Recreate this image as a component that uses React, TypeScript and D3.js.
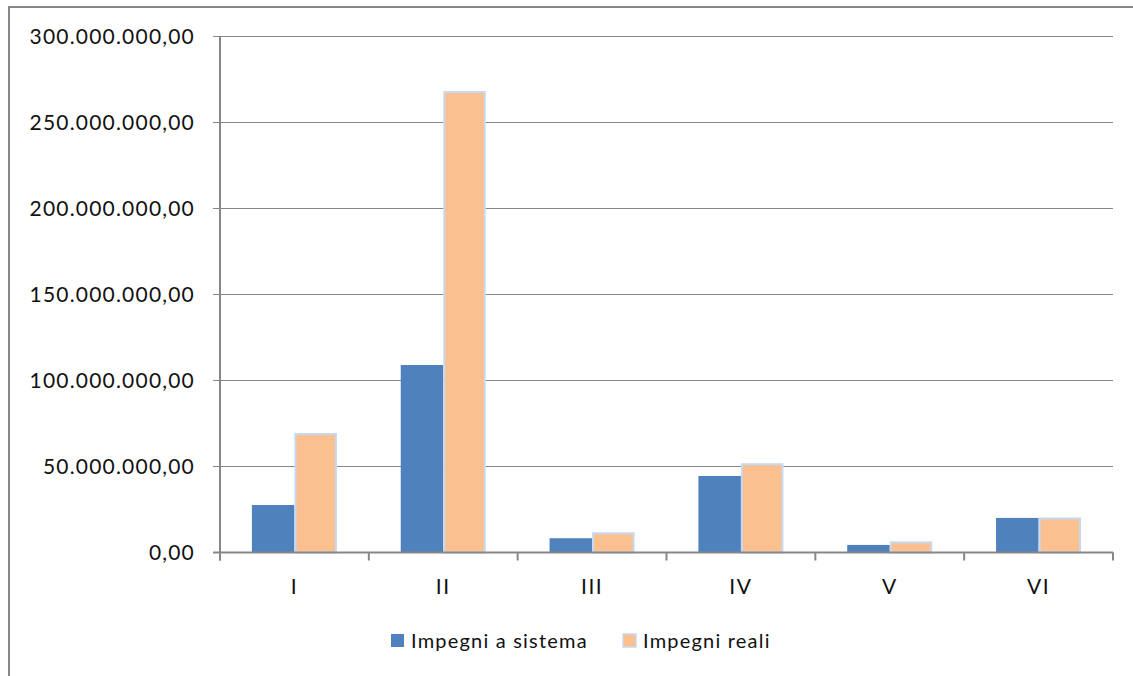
import { useEffect, useRef } from 'react';
import * as d3 from 'd3';

const categories = ['I', 'II', 'III', 'IV', 'V', 'VI'];
const impegniSistema = [27600000, 109000000, 8300000, 44500000, 4400000, 20100000];
const impegniReali = [68900000, 267700000, 11200000, 51300000, 5900000, 19800000];
const yTicks = [0, 50000000, 100000000, 150000000, 200000000, 250000000, 300000000];
const seriesNames = ['Impegni a sistema', 'Impegni reali'];

const W = 1133;
const H = 676;
const margin = { top: 36.5, right: 20, bottom: 123.5, left: 220 };
const FONT = 'Lato, "Open Sans", sans-serif';
const BLUE = '#4f81bd';
const ORANGE = '#fac090';
const GRID = '#878787';

// 300.000.000,00 style
const fmt = (v: number) => {
  const s = Math.round(v).toString().replace(/\B(?=(\d{3})+(?!\d))/g, '.');
  return s + ',00';
};

const App = () => {
  const ref = useRef<SVGSVGElement>(null);

  useEffect(() => {
    const svg = d3.select(ref.current);
    svg.selectAll('*').remove();

    const x0 = margin.left;
    const x1 = W - margin.right;
    const yTop = margin.top;
    const yBot = H - margin.bottom;

    const x = d3.scaleBand().domain(categories).range([x0, x1]);
    const inner = d3
      .scaleBand()
      .domain(seriesNames)
      .range([0, x.bandwidth()])
      .paddingInner(0)
      .paddingOuter(0.75);
    const y = d3.scaleLinear().domain([0, 300000000]).range([yBot, yTop]);

    // outer frame
    svg
      .append('path')
      .attr('d', `M9,${H} L9,7 L${W},7`)
      .attr('fill', 'none')
      .attr('stroke', GRID)
      .attr('stroke-width', 2);

    // gridlines
    svg
      .append('g')
      .selectAll('line')
      .data(yTicks.slice(1))
      .enter()
      .append('line')
      .attr('x1', x0 - 7)
      .attr('x2', x1)
      .attr('y1', (d) => y(d))
      .attr('y2', (d) => y(d))
      .attr('stroke', GRID)
      .attr('stroke-width', 1);

    // y labels
    svg
      .append('g')
      .selectAll('text')
      .data(yTicks)
      .enter()
      .append('text')
      .attr('x', 195)
      .attr('y', (d) => y(d))
      .attr('dy', '0.35em')
      .attr('text-anchor', 'end')
      .style('font-family', FONT)
      .style('font-size', '21px')
      .style('letter-spacing', '1.2px')
      .attr('fill', '#111')
      .text(fmt);

    // bars
    const data = categories.map((c, i) => ({ c, vals: [impegniSistema[i], impegniReali[i]] }));
    const groups = svg
      .append('g')
      .selectAll('g')
      .data(data)
      .enter()
      .append('g')
      .attr('transform', (d) => `translate(${x(d.c)},0)`);

    groups
      .selectAll('rect')
      .data((d) => d.vals.map((v, i) => ({ v, s: seriesNames[i] })))
      .enter()
      .append('rect')
      .attr('x', (d) => (inner(d.s) as number) + (d.s === seriesNames[1] ? 1 : 0))
      .attr('width', (d) => inner.bandwidth() - (d.s === seriesNames[1] ? 2 : 0))
      .attr('y', (d) => y(d.v))
      .attr('height', (d) => yBot - y(d.v))
      .attr('fill', (d) => (d.s === seriesNames[0] ? BLUE : ORANGE))
      .attr('stroke', (d) => (d.s === seriesNames[0] ? 'none' : '#c6d9f1'))
      .attr('stroke-width', 2);

    // axes
    svg
      .append('line')
      .attr('x1', x0)
      .attr('x2', x0)
      .attr('y1', yTop)
      .attr('y2', yBot + 8)
      .attr('stroke', GRID)
      .attr('stroke-width', 2);
    svg
      .append('line')
      .attr('x1', x0 - 7)
      .attr('x2', x1)
      .attr('y1', yBot)
      .attr('y2', yBot)
      .attr('stroke', GRID)
      .attr('stroke-width', 2);

    const tickXs = categories.map((c) => (x(c) as number)).concat([x1]);
    svg
      .append('g')
      .selectAll('line')
      .data(tickXs)
      .enter()
      .append('line')
      .attr('x1', (d) => d)
      .attr('x2', (d) => d)
      .attr('y1', yBot)
      .attr('y2', yBot + 8)
      .attr('stroke', GRID)
      .attr('stroke-width', 2);

    // category labels
    svg
      .append('g')
      .selectAll('text')
      .data(categories)
      .enter()
      .append('text')
      .attr('x', (d) => (x(d) as number) + x.bandwidth() / 2)
      .attr('y', 587)
      .attr('dy', '0.35em')
      .attr('text-anchor', 'middle')
      .style('font-family', FONT)
      .style('font-size', '21px')
      .style('letter-spacing', '1.5px')
      .attr('fill', '#111')
      .text((d) => d);

    // legend
    const legend = [
      { name: seriesNames[0], color: BLUE, stroke: 'none', x: 391, tx: 411 },
      { name: seriesNames[1], color: ORANGE, stroke: '#c6d9f1', x: 623, tx: 643 },
    ];
    const lg = svg.append('g');
    lg.selectAll('rect')
      .data(legend)
      .enter()
      .append('rect')
      .attr('x', (d) => d.x)
      .attr('y', 634)
      .attr('width', 13)
      .attr('height', 13)
      .attr('fill', (d) => d.color)
      .attr('stroke', (d) => d.stroke)
      .attr('stroke-width', 1.5);
    lg.selectAll('text')
      .data(legend)
      .enter()
      .append('text')
      .attr('x', (d) => d.tx)
      .attr('y', 641)
      .attr('dy', '0.35em')
      .style('font-family', FONT)
      .style('font-size', '20px')
      .style('letter-spacing', '1.2px')
      .attr('fill', '#111')
      .text((d) => d.name);
  }, []);

  return (
    <div style={{ position: 'fixed', left: 0, top: 0 }}>
      <svg ref={ref} width={W} height={H} style={{ display: 'block', background: '#fff' }} />
    </div>
  );
};

export default App;
